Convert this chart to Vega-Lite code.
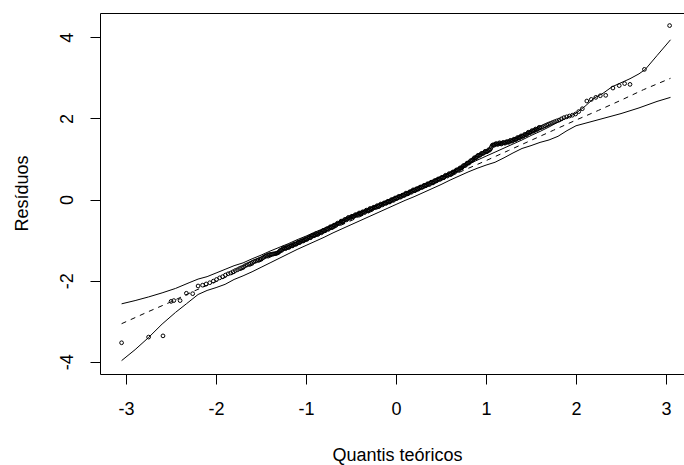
{
  "$schema": "https://vega.github.io/schema/vega-lite/v6.json",
  "width": 584,
  "height": 361,
  "autosize": {"type": "none"},
  "padding": {"left": 100, "top": 13, "right": 0, "bottom": 91},
  "background": "white",
  "config": {
    "view": {"stroke": null},
    "font": "Liberation Sans",
    "axis": {
      "grid": false,
      "domainColor": "black",
      "domainWidth": 1,
      "tickColor": "black",
      "tickWidth": 1,
      "tickSize": 10,
      "labelFont": "Liberation Sans",
      "labelFontSize": 18,
      "labelColor": "black",
      "labelFlush": false,
      "labelOverlap": false,
      "titleFont": "Liberation Sans",
      "titleFontSize": 18,
      "titleFontWeight": "normal",
      "titleColor": "black"
    }
  },
  "datasets": {
    "pts": [
      {"q": -3.05, "r": -3.53}, {"q": -2.75, "r": -3.39}, {"q": -2.59, "r": -3.36}, {"q": -2.50, "r": -2.51}, {"q": -2.47, "r": -2.49},
      {"q": -2.40, "r": -2.49}, {"q": -2.33, "r": -2.31}, {"q": -2.26, "r": -2.32}, {"q": -2.20, "r": -2.13}, {"q": -2.15, "r": -2.11},
      {"q": -2.11, "r": -2.08}, {"q": -2.07, "r": -2.05}, {"q": -2.03, "r": -2.01}, {"q": -1.995, "r": -1.97}, {"q": -1.96, "r": -1.93},
      {"q": -1.927, "r": -1.90}, {"q": -1.896, "r": -1.86}, {"q": -1.866, "r": -1.83}, {"q": -1.838, "r": -1.81}, {"q": -1.812, "r": -1.78},
      {"q": -1.786, "r": -1.75}, {"q": -1.762, "r": -1.73}, {"q": -1.739, "r": -1.70}, {"q": -1.717, "r": -1.68}, {"q": -1.695, "r": -1.66},
      {"q": -1.675, "r": -1.63}, {"q": -1.655, "r": -1.61}, {"q": -1.635, "r": -1.59}, {"q": -1.616, "r": -1.57}, {"q": -1.598, "r": -1.55},
      {"q": -1.58, "r": -1.53}, {"q": -1.563, "r": -1.52}, {"q": -1.546, "r": -1.50}, {"q": -1.53, "r": -1.49}, {"q": -1.514, "r": -1.47},
      {"q": -1.499, "r": -1.46}, {"q": -1.483, "r": -1.44}, {"q": -1.468, "r": -1.42}, {"q": -1.454, "r": -1.40}, {"q": -1.44, "r": -1.39},
      {"q": -1.426, "r": -1.37}, {"q": -1.412, "r": -1.36}, {"q": -1.398, "r": -1.355}, {"q": -1.385, "r": -1.35}, {"q": -1.372, "r": -1.345},
      {"q": -1.36, "r": -1.34}, {"q": -1.347, "r": -1.335}, {"q": -1.335, "r": -1.33}, {"q": -1.323, "r": -1.32}, {"q": -1.311, "r": -1.31},
      {"q": -1.30, "r": -1.29}, {"q": -1.28, "r": -1.25}, {"q": -1.26, "r": -1.22}, {"q": -1.24, "r": -1.20}, {"q": -1.22, "r": -1.19},
      {"q": -1.20, "r": -1.17}, {"q": -1.18, "r": -1.15}, {"q": -1.16, "r": -1.14}, {"q": -1.14, "r": -1.11}, {"q": -1.12, "r": -1.10},
      {"q": -1.10, "r": -1.08}, {"q": -1.08, "r": -1.06}, {"q": -1.06, "r": -1.03}, {"q": -1.04, "r": -1.02}, {"q": -1.02, "r": -1.00},
      {"q": -1.00, "r": -0.98}, {"q": -0.98, "r": -0.95}, {"q": -0.96, "r": -0.94}, {"q": -0.94, "r": -0.91}, {"q": -0.92, "r": -0.89},
      {"q": -0.90, "r": -0.87}, {"q": -0.88, "r": -0.85}, {"q": -0.86, "r": -0.84}, {"q": -0.84, "r": -0.81}, {"q": -0.82, "r": -0.79},
      {"q": -0.80, "r": -0.77}, {"q": -0.78, "r": -0.74}, {"q": -0.76, "r": -0.73}, {"q": -0.74, "r": -0.70}, {"q": -0.72, "r": -0.68},
      {"q": -0.70, "r": -0.66}, {"q": -0.68, "r": -0.63}, {"q": -0.66, "r": -0.61}, {"q": -0.64, "r": -0.59}, {"q": -0.62, "r": -0.56},
      {"q": -0.60, "r": -0.54}, {"q": -0.58, "r": -0.52}, {"q": -0.56, "r": -0.49}, {"q": -0.54, "r": -0.47}, {"q": -0.52, "r": -0.45},
      {"q": -0.50, "r": -0.43}, {"q": -0.48, "r": -0.42}, {"q": -0.46, "r": -0.39}, {"q": -0.44, "r": -0.38}, {"q": -0.42, "r": -0.36},
      {"q": -0.40, "r": -0.34}, {"q": -0.38, "r": -0.32}, {"q": -0.36, "r": -0.31}, {"q": -0.34, "r": -0.29}, {"q": -0.32, "r": -0.27},
      {"q": -0.30, "r": -0.25}, {"q": -0.28, "r": -0.23}, {"q": -0.26, "r": -0.22}, {"q": -0.24, "r": -0.19}, {"q": -0.22, "r": -0.18},
      {"q": -0.20, "r": -0.16}, {"q": -0.18, "r": -0.14}, {"q": -0.16, "r": -0.12}, {"q": -0.14, "r": -0.10}, {"q": -0.12, "r": -0.09},
      {"q": -0.10, "r": -0.06}, {"q": -0.08, "r": -0.05}, {"q": -0.06, "r": -0.03}, {"q": -0.04, "r": -0.01}, {"q": -0.02, "r": 0.01},
      {"q": 0.00, "r": 0.03}, {"q": 0.02, "r": 0.05}, {"q": 0.04, "r": 0.07}, {"q": 0.06, "r": 0.08}, {"q": 0.08, "r": 0.11},
      {"q": 0.10, "r": 0.13}, {"q": 0.12, "r": 0.15}, {"q": 0.14, "r": 0.16}, {"q": 0.16, "r": 0.19}, {"q": 0.18, "r": 0.21},
      {"q": 0.20, "r": 0.23}, {"q": 0.22, "r": 0.25}, {"q": 0.24, "r": 0.26}, {"q": 0.26, "r": 0.29}, {"q": 0.28, "r": 0.30},
      {"q": 0.30, "r": 0.32}, {"q": 0.32, "r": 0.35}, {"q": 0.34, "r": 0.36}, {"q": 0.36, "r": 0.38}, {"q": 0.38, "r": 0.40},
      {"q": 0.40, "r": 0.42}, {"q": 0.42, "r": 0.44}, {"q": 0.44, "r": 0.46}, {"q": 0.46, "r": 0.49}, {"q": 0.48, "r": 0.50},
      {"q": 0.50, "r": 0.53}, {"q": 0.52, "r": 0.54}, {"q": 0.54, "r": 0.57}, {"q": 0.56, "r": 0.59}, {"q": 0.58, "r": 0.61},
      {"q": 0.60, "r": 0.63}, {"q": 0.62, "r": 0.65}, {"q": 0.64, "r": 0.68}, {"q": 0.66, "r": 0.70}, {"q": 0.68, "r": 0.73},
      {"q": 0.70, "r": 0.75}, {"q": 0.72, "r": 0.78}, {"q": 0.74, "r": 0.81}, {"q": 0.76, "r": 0.84}, {"q": 0.78, "r": 0.87},
      {"q": 0.80, "r": 0.90}, {"q": 0.82, "r": 0.93}, {"q": 0.84, "r": 0.96}, {"q": 0.86, "r": 1.00}, {"q": 0.88, "r": 1.03},
      {"q": 0.90, "r": 1.06}, {"q": 0.92, "r": 1.09}, {"q": 0.94, "r": 1.11}, {"q": 0.96, "r": 1.14}, {"q": 0.98, "r": 1.16},
      {"q": 1.00, "r": 1.18}, {"q": 1.02, "r": 1.20}, {"q": 1.04, "r": 1.22}, {"q": 1.06, "r": 1.30}, {"q": 1.08, "r": 1.35},
      {"q": 1.10, "r": 1.36}, {"q": 1.12, "r": 1.37}, {"q": 1.14, "r": 1.38}, {"q": 1.16, "r": 1.38}, {"q": 1.18, "r": 1.39},
      {"q": 1.20, "r": 1.40}, {"q": 1.22, "r": 1.41}, {"q": 1.24, "r": 1.42}, {"q": 1.26, "r": 1.43}, {"q": 1.28, "r": 1.45},
      {"q": 1.30, "r": 1.46}, {"q": 1.32, "r": 1.48}, {"q": 1.34, "r": 1.50}, {"q": 1.36, "r": 1.52}, {"q": 1.38, "r": 1.54},
      {"q": 1.40, "r": 1.56}, {"q": 1.42, "r": 1.58}, {"q": 1.44, "r": 1.60}, {"q": 1.46, "r": 1.63}, {"q": 1.48, "r": 1.65},
      {"q": 1.50, "r": 1.67}, {"q": 1.52, "r": 1.69}, {"q": 1.54, "r": 1.71}, {"q": 1.56, "r": 1.73}, {"q": 1.58, "r": 1.75},
      {"q": 1.60, "r": 1.77}, {"q": 1.616, "r": 1.78}, {"q": 1.635, "r": 1.80}, {"q": 1.655, "r": 1.82}, {"q": 1.675, "r": 1.84},
      {"q": 1.695, "r": 1.86}, {"q": 1.717, "r": 1.88}, {"q": 1.739, "r": 1.90}, {"q": 1.762, "r": 1.92}, {"q": 1.786, "r": 1.94},
      {"q": 1.812, "r": 1.96}, {"q": 1.838, "r": 1.99}, {"q": 1.866, "r": 2.02}, {"q": 1.896, "r": 2.04}, {"q": 1.927, "r": 2.06},
      {"q": 1.96, "r": 2.08}, {"q": 1.995, "r": 2.11}, {"q": 2.03, "r": 2.17}, {"q": 2.07, "r": 2.24}, {"q": 2.12, "r": 2.43},
      {"q": 2.17, "r": 2.47}, {"q": 2.22, "r": 2.52}, {"q": 2.27, "r": 2.56}, {"q": 2.33, "r": 2.57}, {"q": 2.41, "r": 2.75},
      {"q": 2.48, "r": 2.81}, {"q": 2.54, "r": 2.86}, {"q": 2.60, "r": 2.84}, {"q": 2.76, "r": 3.21}, {"q": 3.04, "r": 4.29},
      {"q": -1.29, "r": -1.26}, {"q": -1.27, "r": -1.25}, {"q": -1.25, "r": -1.19}, {"q": -1.23, "r": -1.21}, {"q": -1.21, "r": -1.16},
      {"q": -1.19, "r": -1.18}, {"q": -1.17, "r": -1.13}, {"q": -1.15, "r": -1.14}, {"q": -1.13, "r": -1.09}, {"q": -1.11, "r": -1.10},
      {"q": -1.09, "r": -1.05}, {"q": -1.07, "r": -1.06}, {"q": -1.05, "r": -1.01}, {"q": -1.03, "r": -1.02}, {"q": -1.01, "r": -0.97},
      {"q": -0.99, "r": -0.98}, {"q": -0.97, "r": -0.93}, {"q": -0.95, "r": -0.94}, {"q": -0.93, "r": -0.88}, {"q": -0.91, "r": -0.89},
      {"q": -0.89, "r": -0.84}, {"q": -0.87, "r": -0.86}, {"q": -0.85, "r": -0.81}, {"q": -0.83, "r": -0.82}, {"q": -0.81, "r": -0.76},
      {"q": -0.79, "r": -0.77}, {"q": -0.77, "r": -0.72}, {"q": -0.75, "r": -0.73}, {"q": -0.73, "r": -0.67}, {"q": -0.71, "r": -0.69},
      {"q": -0.69, "r": -0.63}, {"q": -0.67, "r": -0.64}, {"q": -0.65, "r": -0.58}, {"q": -0.63, "r": -0.59}, {"q": -0.61, "r": -0.53},
      {"q": -0.59, "r": -0.55}, {"q": -0.57, "r": -0.49}, {"q": -0.55, "r": -0.50}, {"q": -0.53, "r": -0.44}, {"q": -0.51, "r": -0.46},
      {"q": -0.49, "r": -0.41}, {"q": -0.47, "r": -0.42}, {"q": -0.45, "r": -0.37}, {"q": -0.43, "r": -0.39}, {"q": -0.41, "r": -0.33},
      {"q": -0.39, "r": -0.35}, {"q": -0.37, "r": -0.30}, {"q": -0.35, "r": -0.32}, {"q": -0.33, "r": -0.26}, {"q": -0.31, "r": -0.28},
      {"q": -0.29, "r": -0.22}, {"q": -0.27, "r": -0.24}, {"q": -0.25, "r": -0.19}, {"q": -0.23, "r": -0.20}, {"q": -0.21, "r": -0.15},
      {"q": -0.19, "r": -0.17}, {"q": -0.17, "r": -0.11}, {"q": -0.15, "r": -0.13}, {"q": -0.13, "r": -0.08}, {"q": -0.11, "r": -0.09},
      {"q": -0.09, "r": -0.04}, {"q": -0.07, "r": -0.06}, {"q": -0.05, "r": 0.00}, {"q": -0.03, "r": -0.02}, {"q": -0.01, "r": 0.04},
      {"q": 0.01, "r": 0.03}, {"q": 0.03, "r": 0.08}, {"q": 0.05, "r": 0.06}, {"q": 0.07, "r": 0.11}, {"q": 0.09, "r": 0.10},
      {"q": 0.11, "r": 0.16}, {"q": 0.13, "r": 0.14}, {"q": 0.15, "r": 0.19}, {"q": 0.17, "r": 0.18}, {"q": 0.19, "r": 0.24},
      {"q": 0.21, "r": 0.22}, {"q": 0.23, "r": 0.27}, {"q": 0.25, "r": 0.26}, {"q": 0.27, "r": 0.31}, {"q": 0.29, "r": 0.30},
      {"q": 0.31, "r": 0.35}, {"q": 0.33, "r": 0.34}, {"q": 0.35, "r": 0.39}, {"q": 0.37, "r": 0.37}, {"q": 0.39, "r": 0.43},
      {"q": 0.41, "r": 0.41}, {"q": 0.43, "r": 0.47}, {"q": 0.45, "r": 0.46}, {"q": 0.47, "r": 0.51}, {"q": 0.49, "r": 0.50},
      {"q": 0.51, "r": 0.55}, {"q": 0.53, "r": 0.54}, {"q": 0.55, "r": 0.60}, {"q": 0.57, "r": 0.58}, {"q": 0.59, "r": 0.64},
      {"q": 0.61, "r": 0.62}, {"q": 0.63, "r": 0.68}, {"q": 0.65, "r": 0.67}, {"q": 0.67, "r": 0.73}, {"q": 0.69, "r": 0.72},
      {"q": 0.71, "r": 0.78}, {"q": 0.73, "r": 0.78}, {"q": 0.75, "r": 0.84}, {"q": 0.77, "r": 0.84}, {"q": 0.79, "r": 0.90},
      {"q": 0.81, "r": 0.90}, {"q": 0.83, "r": 0.96}, {"q": 0.85, "r": 0.97}, {"q": 0.87, "r": 1.03}, {"q": 0.89, "r": 1.03},
      {"q": 0.91, "r": 1.09}, {"q": 0.93, "r": 1.09}, {"q": 0.95, "r": 1.14}, {"q": 0.97, "r": 1.14}, {"q": 0.99, "r": 1.19},
      {"q": 1.01, "r": 1.18}, {"q": 1.03, "r": 1.23}, {"q": 1.05, "r": 1.25}, {"q": 1.07, "r": 1.34}, {"q": 1.09, "r": 1.34},
      {"q": 1.11, "r": 1.38}, {"q": 1.13, "r": 1.36}, {"q": 1.15, "r": 1.40}, {"q": 1.17, "r": 1.37}, {"q": 1.19, "r": 1.41},
      {"q": 1.21, "r": 1.39}, {"q": 1.23, "r": 1.43}, {"q": 1.25, "r": 1.41}, {"q": 1.27, "r": 1.46}, {"q": 1.29, "r": 1.44},
      {"q": 1.31, "r": 1.49}, {"q": 1.33, "r": 1.48}, {"q": 1.35, "r": 1.53}, {"q": 1.37, "r": 1.52}, {"q": 1.39, "r": 1.57},
      {"q": 1.41, "r": 1.56}, {"q": 1.43, "r": 1.61}, {"q": 1.45, "r": 1.60}, {"q": 1.47, "r": 1.66}, {"q": 1.49, "r": 1.65},
      {"q": 1.51, "r": 1.70}, {"q": 1.53, "r": 1.69}, {"q": 1.55, "r": 1.74}, {"q": 1.57, "r": 1.73}, {"q": 1.59, "r": 1.78}
    ],
    "env": [
      {"band": "upper", "q": -3.05, "v": -2.57}, {"band": "upper", "q": -2.9, "v": -2.49}, {"band": "upper", "q": -2.75, "v": -2.40},
      {"band": "upper", "q": -2.6, "v": -2.30}, {"band": "upper", "q": -2.45, "v": -2.19}, {"band": "upper", "q": -2.3, "v": -2.05},
      {"band": "upper", "q": -2.2, "v": -1.96}, {"band": "upper", "q": -2.1, "v": -1.90}, {"band": "upper", "q": -2.0, "v": -1.81},
      {"band": "upper", "q": -1.9, "v": -1.72}, {"band": "upper", "q": -1.8, "v": -1.63}, {"band": "upper", "q": -1.7, "v": -1.56},
      {"band": "upper", "q": -1.6, "v": -1.46}, {"band": "upper", "q": -1.5, "v": -1.37}, {"band": "upper", "q": -1.4, "v": -1.27},
      {"band": "upper", "q": -1.3, "v": -1.18}, {"band": "upper", "q": -1.2, "v": -1.09}, {"band": "upper", "q": -1.1, "v": -0.99},
      {"band": "upper", "q": -1.0, "v": -0.90}, {"band": "upper", "q": -0.9, "v": -0.80}, {"band": "upper", "q": -0.8, "v": -0.71},
      {"band": "upper", "q": -0.7, "v": -0.61}, {"band": "upper", "q": -0.6, "v": -0.52}, {"band": "upper", "q": -0.5, "v": -0.42},
      {"band": "upper", "q": -0.4, "v": -0.32}, {"band": "upper", "q": -0.3, "v": -0.22}, {"band": "upper", "q": -0.2, "v": -0.12},
      {"band": "upper", "q": -0.1, "v": -0.02}, {"band": "upper", "q": 0.0, "v": 0.08}, {"band": "upper", "q": 0.1, "v": 0.17},
      {"band": "upper", "q": 0.2, "v": 0.27}, {"band": "upper", "q": 0.3, "v": 0.37}, {"band": "upper", "q": 0.4, "v": 0.47},
      {"band": "upper", "q": 0.5, "v": 0.57}, {"band": "upper", "q": 0.6, "v": 0.67}, {"band": "upper", "q": 0.7, "v": 0.77},
      {"band": "upper", "q": 0.8, "v": 0.87}, {"band": "upper", "q": 0.9, "v": 0.97}, {"band": "upper", "q": 1.0, "v": 1.07},
      {"band": "upper", "q": 1.1, "v": 1.17}, {"band": "upper", "q": 1.2, "v": 1.27}, {"band": "upper", "q": 1.3, "v": 1.37},
      {"band": "upper", "q": 1.4, "v": 1.47}, {"band": "upper", "q": 1.5, "v": 1.58}, {"band": "upper", "q": 1.6, "v": 1.68},
      {"band": "upper", "q": 1.7, "v": 1.79}, {"band": "upper", "q": 1.8, "v": 1.91}, {"band": "upper", "q": 1.9, "v": 2.02},
      {"band": "upper", "q": 2.0, "v": 2.13}, {"band": "upper", "q": 2.1, "v": 2.30}, {"band": "upper", "q": 2.2, "v": 2.50},
      {"band": "upper", "q": 2.3, "v": 2.62}, {"band": "upper", "q": 2.4, "v": 2.78}, {"band": "upper", "q": 2.5, "v": 2.88},
      {"band": "upper", "q": 2.6, "v": 2.98}, {"band": "upper", "q": 2.7, "v": 3.10}, {"band": "upper", "q": 2.77, "v": 3.21},
      {"band": "upper", "q": 2.9, "v": 3.55}, {"band": "upper", "q": 3.05, "v": 3.94},
      {"band": "lower", "q": -3.05, "v": -3.97}, {"band": "lower", "q": -2.9, "v": -3.70}, {"band": "lower", "q": -2.75, "v": -3.40},
      {"band": "lower", "q": -2.6, "v": -3.07}, {"band": "lower", "q": -2.45, "v": -2.78}, {"band": "lower", "q": -2.33, "v": -2.57},
      {"band": "lower", "q": -2.2, "v": -2.34}, {"band": "lower", "q": -2.1, "v": -2.24}, {"band": "lower", "q": -2.0, "v": -2.17},
      {"band": "lower", "q": -1.9, "v": -2.09}, {"band": "lower", "q": -1.8, "v": -1.97}, {"band": "lower", "q": -1.7, "v": -1.88},
      {"band": "lower", "q": -1.6, "v": -1.78}, {"band": "lower", "q": -1.5, "v": -1.67}, {"band": "lower", "q": -1.4, "v": -1.56},
      {"band": "lower", "q": -1.3, "v": -1.45}, {"band": "lower", "q": -1.2, "v": -1.34}, {"band": "lower", "q": -1.1, "v": -1.23},
      {"band": "lower", "q": -1.0, "v": -1.13}, {"band": "lower", "q": -0.9, "v": -1.03}, {"band": "lower", "q": -0.8, "v": -0.93},
      {"band": "lower", "q": -0.7, "v": -0.82}, {"band": "lower", "q": -0.6, "v": -0.72}, {"band": "lower", "q": -0.5, "v": -0.62},
      {"band": "lower", "q": -0.4, "v": -0.52}, {"band": "lower", "q": -0.3, "v": -0.42}, {"band": "lower", "q": -0.2, "v": -0.32},
      {"band": "lower", "q": -0.1, "v": -0.22}, {"band": "lower", "q": 0.0, "v": -0.12}, {"band": "lower", "q": 0.1, "v": -0.02},
      {"band": "lower", "q": 0.2, "v": 0.07}, {"band": "lower", "q": 0.3, "v": 0.17}, {"band": "lower", "q": 0.4, "v": 0.27},
      {"band": "lower", "q": 0.5, "v": 0.37}, {"band": "lower", "q": 0.6, "v": 0.48}, {"band": "lower", "q": 0.7, "v": 0.58},
      {"band": "lower", "q": 0.8, "v": 0.68}, {"band": "lower", "q": 0.9, "v": 0.77}, {"band": "lower", "q": 1.0, "v": 0.85},
      {"band": "lower", "q": 1.1, "v": 0.92}, {"band": "lower", "q": 1.2, "v": 1.03}, {"band": "lower", "q": 1.3, "v": 1.15},
      {"band": "lower", "q": 1.4, "v": 1.26}, {"band": "lower", "q": 1.5, "v": 1.33}, {"band": "lower", "q": 1.6, "v": 1.41},
      {"band": "lower", "q": 1.7, "v": 1.47}, {"band": "lower", "q": 1.8, "v": 1.56}, {"band": "lower", "q": 1.9, "v": 1.70},
      {"band": "lower", "q": 2.0, "v": 1.82}, {"band": "lower", "q": 2.1, "v": 1.88}, {"band": "lower", "q": 2.2, "v": 1.94},
      {"band": "lower", "q": 2.3, "v": 2.00}, {"band": "lower", "q": 2.4, "v": 2.06}, {"band": "lower", "q": 2.5, "v": 2.12},
      {"band": "lower", "q": 2.6, "v": 2.19}, {"band": "lower", "q": 2.7, "v": 2.26}, {"band": "lower", "q": 2.8, "v": 2.34},
      {"band": "lower", "q": 2.9, "v": 2.42}, {"band": "lower", "q": 3.05, "v": 2.52}
    ],
    "med": [
      {"q": -3.05, "v": -3.06}, {"q": -2.75, "v": -2.76}, {"q": -2.5, "v": -2.52}, {"q": -2.25, "v": -2.26}, {"q": -2.0, "v": -2.02},
      {"q": -1.75, "v": -1.77}, {"q": -1.5, "v": -1.52}, {"q": -1.25, "v": -1.27}, {"q": -1.0, "v": -1.02}, {"q": -0.75, "v": -0.77},
      {"q": -0.5, "v": -0.52}, {"q": -0.25, "v": -0.27}, {"q": 0.0, "v": -0.02}, {"q": 0.25, "v": 0.22}, {"q": 0.5, "v": 0.47},
      {"q": 0.75, "v": 0.72}, {"q": 1.0, "v": 0.96}, {"q": 1.25, "v": 1.21}, {"q": 1.5, "v": 1.46}, {"q": 1.75, "v": 1.71},
      {"q": 2.0, "v": 1.96}, {"q": 2.25, "v": 2.20}, {"q": 2.5, "v": 2.45}, {"q": 2.75, "v": 2.71}, {"q": 3.05, "v": 2.99}
    ]
  },
  "resolve": {"axis": {"x": "independent", "y": "independent"}},
  "layer": [
    {
      "data": {"name": "pts"},
      "mark": {"type": "point", "shape": "circle", "filled": false, "size": 14, "strokeWidth": 1, "color": "black", "opacity": 1},
      "encoding": {
        "x": {
          "field": "q", "type": "quantitative",
          "scale": {"domain": [-3.29, 3.2], "nice": false, "zero": false},
          "axis": {
            "orient": "bottom", "values": [-3, -2, -1, 0, 1, 2, 3], "labelExpr": "'' + datum.value",
            "labelPadding": 16, "title": "Quantis teóricos",
            "titleX": 297, "titleY": 81, "titleAlign": "center", "titleBaseline": "middle", "titleAnchor": null
          }
        },
        "y": {
          "field": "r", "type": "quantitative",
          "scale": {"domain": [-4.3, 4.6], "nice": false, "zero": false},
          "axis": {
            "orient": "left", "values": [-4, -2, 0, 2, 4], "labelExpr": "'' + datum.value",
            "labelAngle": 270, "labelAlign": "center", "labelBaseline": "bottom", "labelPadding": 14,
            "title": "Resíduos", "titleAngle": 270, "titleX": -78, "titleY": 180,
            "titleAlign": "center", "titleBaseline": "middle", "titleAnchor": null
          }
        }
      }
    },
    {
      "data": {"name": "env"},
      "mark": {"type": "line", "color": "black", "strokeWidth": 1},
      "encoding": {
        "x": {"field": "q", "type": "quantitative", "axis": null},
        "y": {"field": "v", "type": "quantitative", "axis": null},
        "detail": {"field": "band", "type": "nominal"}
      }
    },
    {
      "data": {"name": "med"},
      "mark": {"type": "line", "color": "black", "strokeWidth": 1, "strokeDash": [5, 5]},
      "encoding": {
        "x": {
          "field": "q", "type": "quantitative",
          "axis": {"orient": "top", "labels": false, "ticks": false, "title": null, "domain": true}
        },
        "y": {"field": "v", "type": "quantitative", "axis": null}
      }
    }
  ]
}
